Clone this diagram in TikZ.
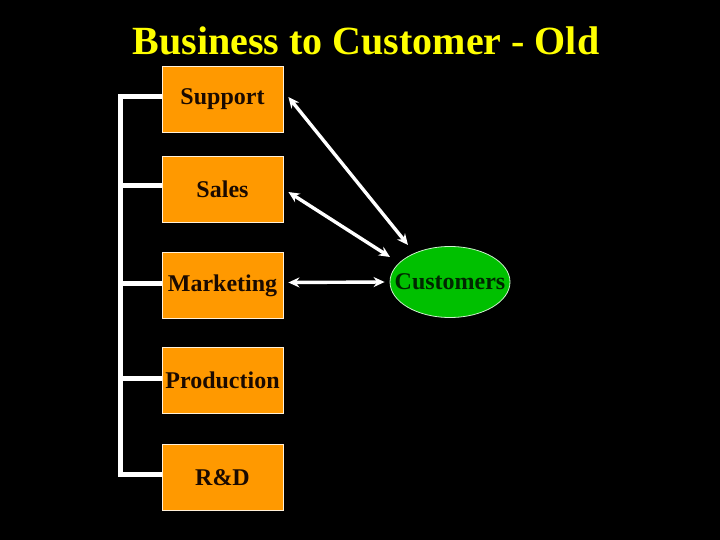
\documentclass[tikz,border=0pt]{standalone}
\usepackage{fontspec}
\setmainfont{Liberation Serif}
\usetikzlibrary{arrows.meta,shapes.geometric,calc}
\definecolor{boxorange}{HTML}{FF9900}
\definecolor{custgreen}{HTML}{00C000}
\definecolor{titleyellow}{HTML}{FFFF00}
\definecolor{labeldark}{HTML}{1A0A00}
\tikzset{
  dept/.style={draw=white!85!boxorange, line width=0.8pt, fill=boxorange, minimum width=121pt, minimum height=66pt, inner sep=0pt, text=labeldark, font=\fontsize{24}{27}\selectfont\bfseries},
  bracket/.style={draw=white, line width=5pt},
  link/.style={draw=white, line width=3.4pt, {Stealth[length=11pt,width=10pt]}-{Stealth[length=11pt,width=10pt]}},
}
\begin{document}
\begin{tikzpicture}[x=1pt,y=-1pt]
\fill[black] (0,0) rectangle (720,540);
\useasboundingbox (0,0) rectangle (720,540);
\node[text=titleyellow, font=\fontsize{40}{44}\selectfont\bfseries] (title) at (366,41) {Business to Customer - Old};
\node[dept] (sup) at (222.5,99) {Support};
\node[dept] (sal) at (222.5,189) {Sales};
\node[dept] (mkt) at (222.5,285.5) {Marketing};
\node[dept] (pro) at (222.5,380.5) {Production};
\node[dept] (rnd) at (222.5,477.5) {R\&D};
\node[ellipse, draw=white!80!custgreen, line width=0.8pt, fill=custgreen, minimum width=120pt, minimum height=71pt, inner sep=0pt] (cust) at (450,282) {};
\node[text=black!85!green, font=\fontsize{24}{27}\selectfont\bfseries] (custlbl) at (450,282) {Customers};
% bracket
\coordinate (b1) at (120,97);
\coordinate (b5) at (120,474);
\draw[bracket, line join=miter] ($(sup.west)+(0,-2)$) -- (b1) -- (b5) -- ($(rnd.west)+(0,-3.5)$);
\draw[bracket] ($(sal.west)+(0,-3)$) -- (120,186);
\draw[bracket] ($(mkt.west)+(0,-2.5)$) -- (120,283);
\draw[bracket] ($(pro.west)+(0,-2.5)$) -- (120,378);
% arrows
\coordinate (e1) at ($(cust.center)+(-42,-37)$);
\coordinate (e2) at ($(cust.center)+(-60,-25)$);
\coordinate (e3) at ($(cust.west)+(-5,0)$);
\draw[link] ($(sup.east)+(5,-2)$) -- (e1);
\draw[link] ($(sal.east)+(5,3)$) -- (e2);
\draw[link] ($(mkt.east)+(5,-3)$) -- (e3);
\end{tikzpicture}
\end{document}
